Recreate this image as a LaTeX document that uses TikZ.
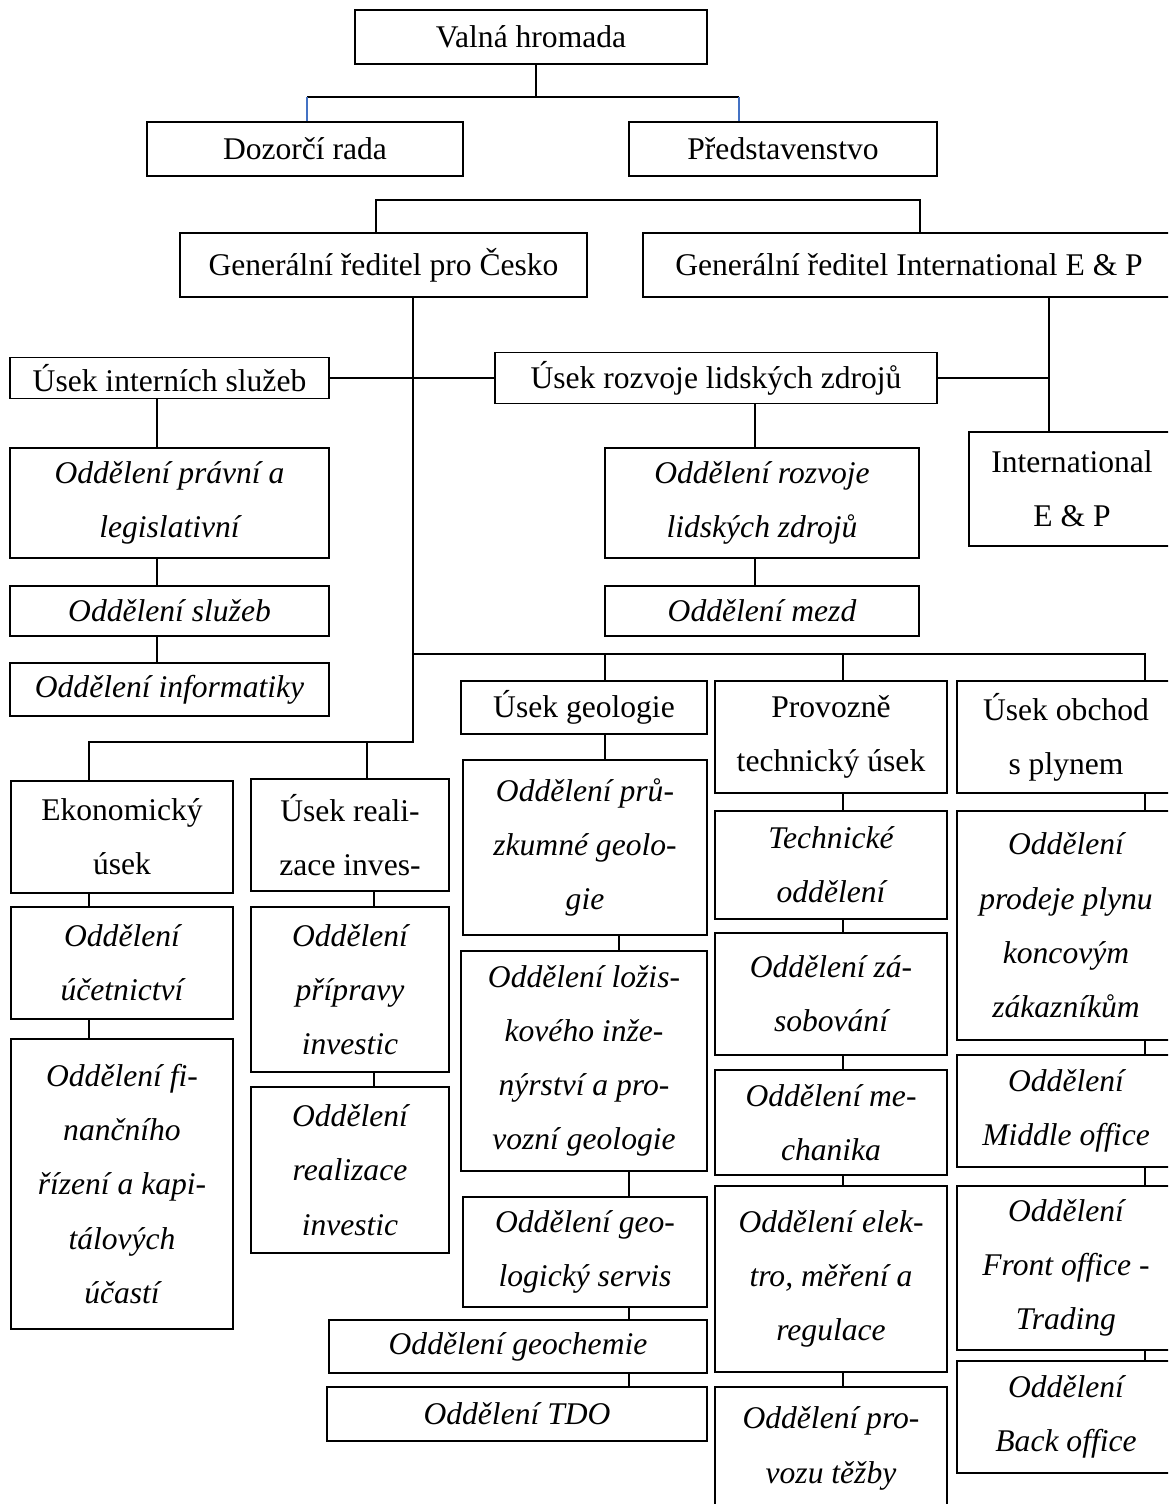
\documentclass[tikz,border=0pt]{standalone}
\usepackage{fontspec}
\setmainfont{Liberation Serif}
\definecolor{linkblue}{RGB}{68,114,196}
\newcommand{\pxu}{0.38pt}

\begin{document}
\begin{tikzpicture}[x=0.38pt, y=-0.38pt]
    % Define styles
    \tikzstyle{unit} = [rectangle, draw=black, line width=0.5pt, inner sep=0pt, align=center, font=\fontsize{12}{20.6}\selectfont]
    \tikzstyle{dept} = [unit, font=\fontsize{12}{20.6}\selectfont\itshape]
    \tikzstyle{link} = [line width=0.75pt]
    \tikzstyle{bluelink} = [line width=0.5pt, draw=linkblue]
    \tikzset{boxsize/.style 2 args={minimum width=#1*\pxu, minimum height=#2*\pxu}}

    \useasboundingbox (0,0) rectangle (1168,1504);
    \clip (0,0) rectangle (1168,1504);

    % Top
    \node (valna) [unit, boxsize={352}{54}] at (531,37) {Valná hromada};
    \node (dozorci) [unit, boxsize={316}{54}] at (305,149) {Dozorčí rada};
    \node (predst) [unit, boxsize={308}{54}] at (783,149) {Představenstvo};
    \node (gr_cz) [unit, boxsize={407}{64}] at (383.5,265) {Generální ředitel pro Česko};
    \node (gr_int) [unit, boxsize={532}{64}] at (909,265) {Generální ředitel International E \& P};

    % Useky
    \node (us_int) [unit, boxsize={319}{41}] at (169.5,378) {Úsek interních služeb};
    \node (us_lz) [unit, boxsize={442}{51}] at (716,378) {Úsek rozvoje lidských zdrojů};
    \node (intl) [unit, boxsize={206}{114}] at (1072,489) {International\\E \& P};
    \node (us_geol) [unit, boxsize={246}{53}] at (584,707.5) {Úsek geologie};
    \node (us_ptu) [unit, boxsize={232}{112}] at (831,737) {Provozně\\technický úsek};
    \node (us_obch) [unit, boxsize={218}{112}] at (1066,737) {Úsek obchod\\s plynem};
    \node (us_ekon) [unit, boxsize={222}{112}] at (122,837) {Ekonomický\\úsek};
    \node (us_real) [unit, boxsize={198}{112}] at (350,835) {Úsek reali-\\zace inves-};

    % Oddeleni
    \node (od_prav) [dept, boxsize={319}{110}] at (169.5,503) {Oddělení právní a\\legislativní};
    \node (od_sluz) [dept, boxsize={319}{50}] at (169.5,611) {Oddělení služeb};
    \node (od_inf) [dept, boxsize={319}{53}] at (169.5,689.5) {Oddělení informatiky};
    \node (od_rlz) [dept, boxsize={314}{110}] at (762,503) {Oddělení rozvoje\\lidských zdrojů};
    \node (od_mezd) [dept, boxsize={314}{50}] at (762,611) {Oddělení mezd};
    \node (od_ucet) [dept, boxsize={222}{112}] at (122,963) {Oddělení\\účetnictví};
    \node (od_fin) [dept, boxsize={222}{290}] at (122,1184) {Oddělení fi-\\nančního\\řízení a kapi-\\tálových\\účastí};
    \node (od_prip) [dept, boxsize={198}{165}] at (350,989.5) {Oddělení\\přípravy\\investic};
    \node (od_rinv) [dept, boxsize={198}{166}] at (350,1170) {Oddělení\\realizace\\investic};
    \node (od_pruz) [dept, boxsize={244}{175}] at (585,847.5) {Oddělení prů-\\zkumné geolo-\\gie};
    \node (od_loz) [dept, boxsize={246}{220}] at (584,1061) {Oddělení ložis-\\kového inže-\\nýrství a pro-\\vozní geologie};
    \node (od_gserv) [dept, boxsize={244}{110}] at (585,1252) {Oddělení geo-\\logický servis};
    \node (od_gchem) [dept, boxsize={378}{53}] at (518,1346.5) {Oddělení geochemie};
    \node (od_tdo) [dept, boxsize={380}{54}] at (517,1414) {Oddělení TDO};
    \node (od_tech) [dept, boxsize={232}{108}] at (831,865) {Technické\\oddělení};
    \node (od_zas) [dept, boxsize={232}{122}] at (831,994) {Oddělení zá-\\sobování};
    \node (od_mech) [dept, boxsize={232}{105}] at (831,1122.5) {Oddělení me-\\chanika};
    \node (od_elek) [dept, boxsize={232}{186}] at (831,1279) {Oddělení elek-\\tro, měření a\\regulace};
    \node (od_tezba) [dept, boxsize={232}{123}] at (831,1448.5) {Oddělení pro-\\vozu těžby};
    \node (od_prod) [dept, boxsize={218}{229}] at (1066,925.5) {Oddělení\\prodeje plynu\\koncovým\\zákazníkům};
    \node (od_middle) [dept, boxsize={218}{112}] at (1066,1111) {Oddělení\\Middle office};
    \node (od_front) [dept, boxsize={218}{164}] at (1066,1268) {Oddělení\\Front office -\\Trading};
    \node (od_back) [dept, boxsize={218}{112}] at (1066,1417) {Oddělení\\Back office};

    % Split points
    \coordinate (top_mid) at (536,97);
    \coordinate (top_l) at (307,97);
    \coordinate (top_r) at (739,97);
    \coordinate (gr_l) at (376,200);
    \coordinate (gr_r) at (920,200);
    \coordinate (trunk) at (413,742);
    \coordinate (ekon_top) at (89,742);
    \coordinate (real_top) at (367,742);
    \coordinate (div_l) at (413,654);
    \coordinate (geol_top) at (605,654);
    \coordinate (ptu_top) at (843,654);
    \coordinate (div_r) at (1145,654);
    \coordinate (int_trunk) at (1049,378);
    \coordinate (c_int) at (157,0);
    \coordinate (c_lz) at (755,0);
    \coordinate (c_real) at (374,0);
    \coordinate (c_geol) at (619,0);
    \coordinate (c_geol2) at (629,0);

    % Connectors
    \draw [link] (top_mid |- valna.south) -- (top_mid);
    \draw [link] (top_l) -- (top_r);
    \draw [bluelink] (top_l) -- (top_l |- dozorci.north);
    \draw [bluelink] (top_r) -- (top_r |- predst.north);
    \draw [link] (gr_l |- gr_cz.north) -- (gr_l) -- (gr_r) -- (gr_r |- gr_int.north);
    \draw [link] (trunk |- gr_cz.south) -- (trunk) -- (ekon_top) -- (ekon_top |- us_ekon.north);
    \draw [link] (real_top) -- (real_top |- us_real.north);
    \draw [link] (div_l) -- (div_r) -- (div_r |- us_obch.north);
    \draw [link] (geol_top) -- (geol_top |- us_geol.north);
    \draw [link] (ptu_top) -- (ptu_top |- us_ptu.north);
    \draw [link] (int_trunk |- gr_int.south) -- (int_trunk |- intl.north);
    \draw [link] (us_lz.east) -- (int_trunk);
    \draw [link] (us_int.east) -- (us_lz.west);

    % Chains of departments
    \foreach \a/\b/\c in {us_int/od_prav/c_int, od_prav/od_sluz/c_int, od_sluz/od_inf/c_int,
        us_lz/od_rlz/c_lz, od_rlz/od_mezd/c_lz,
        us_ekon/od_ucet/ekon_top, od_ucet/od_fin/ekon_top,
        us_real/od_prip/c_real, od_prip/od_rinv/c_real,
        us_geol/od_pruz/geol_top, od_pruz/od_loz/c_geol, od_loz/od_gserv/c_geol2,
        od_gserv/od_gchem/c_geol2, od_gchem/od_tdo/c_geol2,
        us_ptu/od_tech/ptu_top, od_tech/od_zas/ptu_top, od_zas/od_mech/ptu_top,
        od_mech/od_elek/ptu_top, od_elek/od_tezba/ptu_top,
        us_obch/od_prod/div_r, od_prod/od_middle/div_r, od_middle/od_front/div_r,
        od_front/od_back/div_r}
        \draw [link] (\a.south -| \c) -- (\b.north -| \c);
\end{tikzpicture}
\end{document}
